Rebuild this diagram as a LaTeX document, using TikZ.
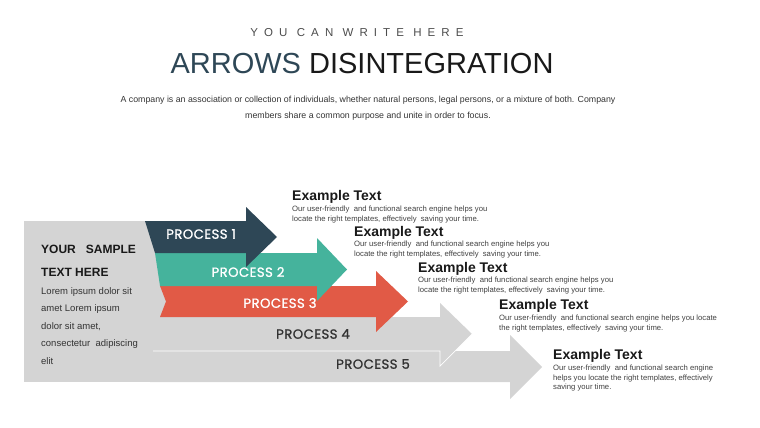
\documentclass[tikz,border=0pt]{standalone}
\usepackage{fontspec}
\setmainfont{Liberation Sans}
\newfontfamily\procfont[FakeBold=1.1,LetterSpace=3]{Poppins}
\newfontfamily\spacedfont[LetterSpace=53]{Liberation Sans}
\definecolor{navy}{HTML}{2E4756}
\definecolor{teal}{HTML}{45B39C}
\definecolor{coral}{HTML}{E15A46}
\definecolor{panel}{HTML}{D4D4D4}
\usetikzlibrary{calc}

\begin{document}
\begin{tikzpicture}[x=1pt,y=-1pt]
\tikzset{
  proc/.style={font=\procfont\fontsize{13.3}{15}\selectfont,text=white,inner sep=0pt},
  head/.style={anchor=west,font=\bfseries\fontsize{14}{16}\selectfont,text=black!90,inner sep=0pt},
  body/.style={anchor=north west,align=left,font=\fontsize{7.7}{9.5}\selectfont,text=black!75,inner sep=0pt},
  side/.style={anchor=west,font=\fontsize{9.5}{11}\selectfont,text=black!80,inner sep=0pt}
}
\useasboundingbox (0,0) rectangle (760,428);

% Titulo
\node (sub) at (357,33) {\spacedfont\fontsize{11.5}{13}\selectfont\color{black!70}YOU CAN WRITE HERE};
\node (title) at (362,64) {\fontsize{29}{32}\selectfont\color{navy}ARROWS \color{black!90}DISINTEGRATION};
\node (desc) at (368,108) [align=center,font=\fontsize{8.8}{16}\selectfont,text=black!80]
  {A company is an association or collection of individuals, whether natural persons, legal persons, or a mixture of both. Company\\
   members share a common purpose and unite in order to focus.};

% Panel gris
\fill[panel] (24,221) rectangle (170,382);

% Flechas
\fill[panel] (150,351) -- (510,351) -- (510,335) -- (542,367) -- (510,399) -- (510,382) -- (150,382) -- cycle;
\fill[panel] (150,317) -- (440,317) -- (440,303) -- (472,334) -- (440,366) -- (440,351) -- (150,351) -- cycle;
\draw[white,line width=0.7pt] (153,351) -- (440,351) -- (440,366) -- (472,334);
\fill[coral] (160,286) -- (376,286) -- (376,271) -- (408,301.5) -- (376,332) -- (376,317) -- (160,317) -- (166,301.5) -- cycle;
\fill[teal] (155,253) -- (317,253) -- (317,238) -- (347,269.5) -- (317,301) -- (317,286) -- (160,286) -- cycle;
\fill[navy] (145,221) -- (246,221) -- (246,207) -- (277,237) -- (246,267) -- (246,253) -- (155,253) -- cycle;

% Etiquetas
\node (p1) at (201,234) [proc] {PROCESS 1};
\node (p2) at (248,272) [proc] {PROCESS 2};
\node (p3) at (280,303) [proc] {PROCESS 3};
\node (p4) at (313,334) [proc,text=black!80] {PROCESS 4};
\node (p5) at (373,364) [proc,text=black!80] {PROCESS 5};

% Texto izquierdo
\node (y1) at (41,249) [side,font=\bfseries\fontsize{12}{14}\selectfont,text=black!90] {YOUR\ \ \ SAMPLE};
\node (y2) at (41,272) [side,font=\bfseries\fontsize{12}{14}\selectfont,text=black!90] {TEXT HERE};
\node (l1) at (41,292) [side] {Lorem ipsum dolor sit};
\node (l2) at (41,309) [side] {amet Lorem ipsum};
\node (l3) at (41,327) [side] {dolor sit amet,};
\node (l4) at (41,344) [side] {consectetur\ \ adipiscing};
\node (l5) at (41,361) [side] {elit};

% Textos de ejemplo
\node (e1) at (292,197) [head] {Example Text};
\node (b1) at (292,206) [body] {Our user-friendly\ \ and functional\ search engine helps you\\locate the right templates,\ effectively\ \ saving\ your time.};
\node (e2) at (354,233) [head] {Example Text};
\node (b2) at (354,241) [body] {Our user-friendly\ \ and functional\ search engine helps you\\locate the right templates,\ effectively\ \ saving\ your time.};
\node (e3) at (418,269) [head] {Example Text};
\node (b3) at (418,277) [body] {Our user-friendly\ \ and functional\ search engine helps you\\locate the right templates,\ effectively\ \ saving\ your time.};
\node (e4) at (499,306) [head] {Example Text};
\node (b4) at (499,315) [body] {Our user-friendly\ \ and functional\ search engine helps you locate\\the right templates,\ effectively\ \ saving\ your time.};
\node (e5) at (553,356) [head] {Example Text};
\node (b5) at (553,365) [body] {Our user-friendly\ \ and functional\ search engine\\helps you locate the right templates,\ effectively\\saving\ your time.};

\end{tikzpicture}
\end{document}
